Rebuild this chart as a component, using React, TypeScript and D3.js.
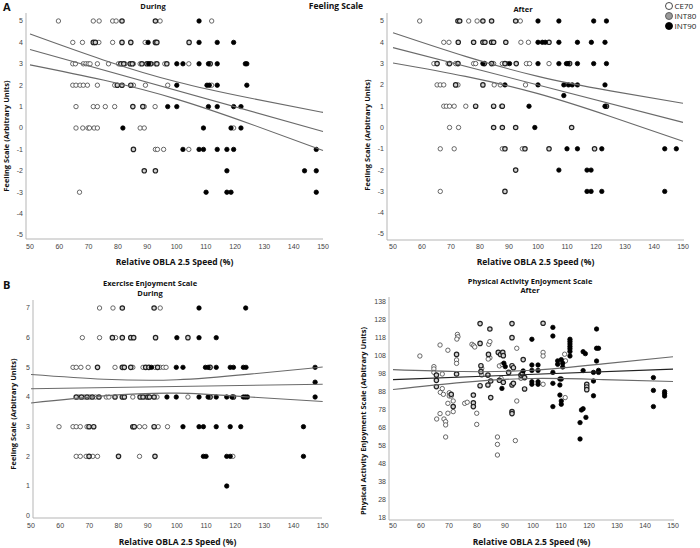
import React from 'react';
import * as d3 from 'd3';

const C = 'CE70';
const M = 'INT80';
const H = 'INT90';
type Pt = [number, number, string];

const groups = [C, M, H];
const xTicks = [50, 60, 70, 80, 90, 100, 110, 120, 130, 140, 150];
const feelTicks = [-5, -4, -3, -2, -1, 0, 1, 2, 3, 4, 5];
const eesTicks = [0, 1, 2, 3, 4, 5, 6, 7];
const pacesTicks = [18, 28, 38, 48, 58, 68, 78, 88, 98, 108, 118, 128, 138];

const feelDuring: Pt[] = [
  [59.7,5,C],[71.6,5,C],[73.6,5,C],[78.2,5,C],[79.4,5,C],[81.4,5,M],[92.8,5,M],[94.4,5,C],[107.7,5,H],[112,5,C],
  [64.6,4,C],[67.9,4,C],[71.6,4,M],[72.3,4,M],[73.5,4,C],[78.2,4,C],[81.4,4,M],[84.4,4,M],[89.3,4,C],[90.3,4,H],[92.8,4,M],[93.3,4,M],[104.3,4,M],[107.7,4,H],[113.9,4,H],[119.5,4,H],
  [64.6,3,C],[65.5,3,C],[68.2,3,C],[69.1,3,C],[69.9,3,C],[70.5,3,C],[73,3,C],[76.8,3,C],[80.2,3,C],[81,3,M],[82,3,M],[82.4,3,C],[84.2,3,M],[84.9,3,M],[85.3,3,C],[87.6,3,C],[88.2,3,M],[89.9,3,M],[90.5,3,H],[91.2,3,M],[92.8,3,C],[93.3,3,M],[96,3,C],[96.7,3,M],[100.1,3,H],[102.2,3,H],[104.2,3,C],[107.7,3,H],[110.9,3,H],[111.5,3,M],[113.9,3,H],[123.5,3,H],[124,3,H],
  [64.6,2,C],[65.7,2,C],[67.1,2,C],[68.2,2,C],[69.6,2,C],[73,2,C],[78.9,2,C],[79.8,2,M],[81.4,2,M],[84.4,2,M],[85.3,2,C],[89.4,2,C],[97,2,C],[100.1,2,H],[110.4,2,H],[111.2,2,H],[112,2,C],[113.9,2,H],[124,2,H],
  [65.7,1,C],[71.6,1,C],[73,1,C],[75.7,1,C],[78.9,1,C],[85.1,1,M],[88.5,1,M],[89,1,C],[92.7,1,C],[97,1,H],[100.1,1,H],[110.9,1,H],[113.9,1,H],[119.5,1,H],[122,1,H],
  [65.7,0,C],[68,0,C],[69.8,0,C],[70.3,0,C],[71.9,0,C],[73,0,C],[81.7,0,H],[87.6,0,C],[89,0,C],[109.2,0,H],[118.6,0,H],[119.5,0,C],[122,0,H],
  [85.3,-1,M],[92.8,-1,C],[93.5,-1,C],[95.6,-1,C],[102.2,-1,H],[104.2,-1,C],[107.7,-1,H],[109.2,-1,H],[113.9,-1,H],[117.2,-1,H],[119.5,-1,H],[147.7,-1,H],
  [89,-2,M],[92.8,-2,M],[117.2,-2,H],[143.7,-2,H],[147.7,-2,H],
  [66.9,-3,C],[110.1,-3,H],[117.2,-3,H],[118.6,-3,H],[147.7,-3,H],
];

const feelAfter: Pt[] = [
  [59.2,5,C],[72.4,5,M],[73,5,M],[76.1,5,C],[79,5,C],[81,5,M],[84,5,M],[92.3,5,M],[93.9,5,C],[100,5,H],[107.2,5,H],[119.2,5,H],[123.6,5,H],
  [67.5,4,C],[69.3,4,C],[72.5,4,M],[77.8,4,M],[81,4,M],[81.7,4,M],[84,4,M],[84.7,4,M],[88.9,4,M],[94.1,4,C],[96.7,4,C],[100,4,H],[101.5,4,H],[102.5,4,H],[103.8,4,M],[107.2,4,H],[113.6,4,H],[118.4,4,H],[123.1,4,H],
  [64.1,3,C],[65.2,3,M],[69,3,C],[69.5,3,M],[71.6,3,C],[72.4,3,M],[77.8,3,C],[78.5,3,C],[81,3,H],[81.5,3,M],[84,3,M],[84.7,3,C],[87.7,3,C],[88.6,3,M],[89.3,3,C],[90.2,3,H],[92.5,3,M],[96,3,C],[97.1,3,C],[100,3,H],[103.8,3,C],[107.2,3,H],[109.8,3,H],[110.3,3,H],[110.9,3,M],[113.6,3,H],[119.2,3,H],[123.6,3,H],
  [65.2,2,C],[66.3,2,C],[67.5,2,C],[71.6,2,M],[72.4,2,C],[81,2,M],[84.9,2,C],[87,2,C],[88.6,2,H],[95.7,2,C],[100,2,H],[108.9,2,H],[110.5,2,H],[111.8,2,H],[113.6,2,H],[123.1,2,H],
  [108.9,1.5,H],
  [67.5,1,C],[68.4,1,C],[69.5,1,C],[71.1,1,C],[75.1,1,C],[78.5,1,M],[84.7,1,M],[87.4,1,C],[87.7,1,M],[96.9,1,H],[123.1,1,H],[123.6,1,M],
  [69.5,0,C],[72.6,0,C],[84.7,0,M],[87.7,0,M],[92.3,0,M],[98.9,0,H],[111.6,0,M],
  [66.3,-1,C],[71.1,-1,C],[87.7,-1,C],[88.6,-1,M],[94.6,-1,C],[95.5,-1,M],[103.8,-1,M],[110,-1,H],[113.6,-1,H],[119.5,-1,M],[122,-1,H],[143.7,-1,H],[147.7,-1,H],
  [92.3,-2,M],[107.2,-2,H],[116.9,-2,H],[118.3,-2,H],
  [66.3,-3,C],[88.6,-3,M],[116.9,-3,H],[118.3,-3,H],[122,-3,H],[143.7,-3,H],
];

const eesDuring: Pt[] = [
  [73.5,7,C],[78.1,7,C],[81.3,7,M],[92.2,7,M],[94.3,7,C],[107.6,7,H],[123.6,7,H],
  [67.6,6,C],[73.5,6,C],[77.9,6,M],[79,6,C],[81.3,6,M],[84.2,6,M],[85.2,6,M],[92.7,6,M],[100,6,H],[103.8,6,M],[107.6,6,H],[113.5,6,H],
  [64.4,5,C],[65.5,5,C],[67.1,5,C],[69.6,5,C],[72.8,5,M],[78.8,5,C],[81.3,5,M],[82,5,M],[84.2,5,M],[84.9,5,C],[88.4,5,C],[89.3,5,M],[90.4,5,M],[91.3,5,H],[92.5,5,C],[93.4,5,M],[94.3,5,C],[95.4,5,C],[96.3,5,C],[99.8,5,H],[102.1,5,H],[109.8,5,H],[110.7,5,H],[111.4,5,M],[113.5,5,H],[118.3,5,H],[119.4,5,H],[122.8,5,H],[123.7,5,H],[147.4,5,H],
  [147.4,4.5,H],
  [65.5,4,M],[66.4,4,C],[67.3,4,M],[68.2,4,C],[69.2,4,M],[70.1,4,C],[71,4,M],[72.1,4,C],[73.3,4,M],[75.8,4,C],[76.7,4,C],[78.8,4,M],[81.3,4,M],[82,4,M],[84.9,4,C],[87.4,4,M],[88.4,4,M],[89.3,4,C],[90,4,M],[90.6,4,M],[92.2,4,M],[93.2,4,C],[96.6,4,H],[99.8,4,H],[103.8,4,C],[107.6,4,H],[110.7,4,H],[111.4,4,M],[113.5,4,H],[117.1,4,H],[118.9,4,H],[119.4,4,M],[122.8,4,H],[123.5,4,H],[124.2,4,H],[147.4,4,H],
  [59.6,3,C],[64.4,3,C],[65.5,3,C],[66.9,3,C],[69.2,3,C],[69.9,3,M],[71.5,3,M],[84.9,3,M],[85.4,3,M],[87.2,3,C],[89,3,C],[92.2,3,M],[93.6,3,C],[96.8,3,C],[102.1,3,H],[107.6,3,H],[109.1,3,H],[113.5,3,H],[118.3,3,H],[121.9,3,H],[143.4,3,H],
  [65.5,2,C],[66.9,2,C],[68.9,2,C],[69.9,2,M],[71.2,2,C],[72.8,2,C],[80,2,M],[87.2,2,C],[92.5,2,M],[109.1,2,H],[110,2,H],[117.1,2,H],[118.3,2,H],[119.2,2,C],[143.4,2,H],
  [117.1,1,H],
];

const pacesAfter: Pt[] = [
  [59.6,108,C],[66.8,114.1,C],[69.6,111.2,C],[64.6,102.1,C],[64.6,100.8,C],[64.6,98.9,C],[65.5,97.4,M],[65.5,94.5,M],[65.5,91,M],[67.6,98,C],[67.6,89.9,C],[66.9,87.8,C],[68,86.7,C],[70.1,87.6,C],[70.8,86.7,M],[70.1,85.8,C],[70.8,85.8,C],[69.6,81.7,C],[71.5,83,C],[71.5,79.9,M],[71.5,77.1,C],[69.6,76.2,C],[66.8,76,C],[65.6,73,C],[68.2,73,C],[68.8,71.5,C],[68.8,69.7,C],[68.8,63,C],
  [73,120,C],[73.2,118.7,C],[72.8,117.4,C],[72.7,108.9,M],[72.7,105.8,C],[72.7,103.9,C],[72.7,98,M],[75.6,81.7,C],[76.5,82.3,C],[78.2,114.5,C],[78.8,113.8,C],[79.2,113,C],
  [81.1,126,M],[81.1,115,M],[84.6,123,M],[84.2,114.5,C],[84.6,116,C],[84.1,108.9,M],[84.6,107,C],[84,106.3,C],[81.4,102.6,M],[81.7,101.2,C],[81.4,99.3,M],[81.7,97.4,C],[81.1,91.5,M],[78.7,86.3,M],[78.7,82,M],[78.7,79.9,M],[79.9,76.2,C],[79.9,70,C],
  [83.9,97.4,M],[83.9,91.9,M],[84.9,94.1,M],[84.9,84.9,M],[87.6,110,M],[88.4,108.8,M],[89.2,110,M],[89.4,108.2,M],[88,102.5,C],[89,103.3,C],[89.6,104,H],[90.1,102.1,H],[91.3,98.9,M],[88,94.5,M],[88.6,95.6,C],[89.4,93.4,M],[88.9,90,H],
  [92.5,126,M],[92.5,118.2,M],[92.5,102.6,M],[93,101.5,M],[92.5,91.9,M],[93,92.8,M],[92.5,77.1,M],[92.5,76,M],[94.2,112.3,C],[94.2,83,C],[95.7,97.4,M],[95.7,95.6,C],[96.2,98.2,M],[97,96,M],[97,89.7,M],[96.5,106,M],[96.5,99.7,H],
  [87.3,63,C],[87.3,58.9,C],[87.3,53,C],[93.7,61,C],
  [99.6,117.3,H],[99.6,103,H],[101.8,103,H],[99.6,100,H],[101.8,100,H],[99.6,93.7,H],[99.6,92.3,H],[101.8,93.7,H],[101.8,92.3,H],[103.6,92.3,C],[103.6,126.2,M],[107.1,123.9,H],[107.1,119.1,H],[103.6,110,C],[103.6,108,C],[107.1,98.9,H],[107.1,92.8,H],[107.1,79.9,H],
  [108.8,105.3,H],[108.8,103.4,H],[110.1,106,H],[110.6,104,H],[110.6,101.9,H],[111.3,109,C],[111.6,105.3,C],[109.6,95.2,H],[110.1,95.2,H],[109.6,91.9,H],[109.6,86.3,H],[111.5,84.9,C],[110.1,83,H],[110.1,81.2,H],
  [113.2,117.3,H],[113.2,116,H],[113.2,114.7,H],[113.2,113.3,H],[113.2,112,H],[113.2,110.5,H],[113.2,108,H],
  [117.9,110.4,H],[118.7,109.3,H],[117.9,99.9,H],[119.2,92.3,M],[119.2,90.8,M],[119.2,89.3,M],[117.3,78,H],[117.9,78.7,H],[116.8,71,H],[118.9,73.9,H],[116.8,61.9,H],
  [122.7,123,H],[122.7,112.3,H],[123.4,112.3,H],[122.7,105.2,H],[121.6,98.9,H],[121.6,94.1,H],[123.4,100,H],[123.4,98.9,H],[121.6,85.9,H],
  [143,96,H],[143,88.9,H],[143,79.9,H],[147,88.2,H],[147,87.1,H],[147,85.8,H],
];

// regression fit and 95% CI curves
const feelDuringFit: [number, number][] = [[50, 3.67], [150, -0.16]];
const feelDuringUpper: [number, number][] = [[50, 4.39], [75, 3.18], [100, 2.16], [125, 1.4], [150, 0.73]];
const feelDuringLower: [number, number][] = [[50, 2.95], [75, 2.24], [100, 1.35], [125, 0.2], [150, -1.05]];
const feelAfterFit: [number, number][] = [[50, 3.75], [150, 0.24]];
const feelAfterUpper: [number, number][] = [[50, 4.45], [75, 3.34], [100, 2.4], [125, 1.72], [150, 1.14]];
const feelAfterLower: [number, number][] = [[50, 3.03], [75, 2.4], [100, 1.59], [125, 0.52], [150, -0.65]];
const eesFit: [number, number][] = [[50, 4.28], [150, 4.43]];
const eesUpper: [number, number][] = [[50, 4.76], [75, 4.6], [100, 4.58], [125, 4.77], [150, 5.01]];
const eesLower: [number, number][] = [[50, 3.8], [75, 4.04], [100, 4.13], [125, 4.0], [150, 3.85]];
const pacesFit: [number, number][] = [[50, 94.9], [150, 100.7]];
const pacesUpper: [number, number][] = [[50, 100.45], [75, 99.35], [100, 100.06], [125, 103.6], [150, 107.6]];
const pacesLower: [number, number][] = [[50, 89.35], [75, 93.35], [100, 95.54], [125, 94.9], [150, 93.8]];

const markerStyle: Record<string, { fill: string; stroke: string; sw: number }> = {
  [C]: { fill: '#ffffff', stroke: '#444', sw: 0.8 },
  [M]: { fill: '#d4d4d4', stroke: '#222', sw: 1.2 },
  [H]: { fill: '#000000', stroke: '#000', sw: 0.8 },
};
const legendStyle: Record<string, { fill: string; stroke: string }> = {
  [C]: { fill: '#ffffff', stroke: '#333' },
  [M]: { fill: '#9a9a9a', stroke: '#555' },
  [H]: { fill: '#000000', stroke: '#000' },
};

const TICK_FONT = '"Liberation Sans", Arial, sans-serif';
const BOLD_FONT = '"Open Sans", "DejaVu Sans", sans-serif';

type PanelCfg = {
  data: Pt[];
  fit: [number, number][];
  upper: [number, number][];
  lower: [number, number][];
  yTicks: number[];
  x50: number; x150: number;
  yTop: number; yBot: number;
  yDomain: [number, number];
  axisX: number; axisY: number; axisTop: number; axisRight: number;
  yLabel: string; yLabelX: number; yLabelY: number;
  xLabelY: number; xTickY: number;
  fitColor: string;
};

function Panel({ cfg }: { cfg: PanelCfg }) {
  const x = d3.scaleLinear().domain([50, 150]).range([cfg.x50, cfg.x150]);
  const y = d3.scaleLinear().domain(cfg.yDomain).range([cfg.yBot, cfg.yTop]);
  const straight = d3.line<[number, number]>().x(d => x(d[0])).y(d => y(d[1]));
  const curved = d3.line<[number, number]>().x(d => x(d[0])).y(d => y(d[1])).curve(d3.curveNatural);
  const ordered = [...cfg.data].sort((a, b) => groups.indexOf(a[2]) - groups.indexOf(b[2]));
  const xMid = (cfg.axisX + cfg.axisRight) / 2;
  return (
    <g>
      <line x1={cfg.axisX} x2={cfg.axisX} y1={cfg.axisTop} y2={cfg.axisY} stroke="#b5b5b5" strokeWidth={1} />
      <line x1={cfg.axisX} x2={cfg.axisRight} y1={cfg.axisY} y2={cfg.axisY} stroke="#b5b5b5" strokeWidth={1} />
      {cfg.yTicks.map(t => (
        <text key={'y' + t} x={cfg.axisX - 3} y={y(t)} dy="0.35em" textAnchor="end" fontSize={7} fontFamily={TICK_FONT} fill="#444">{t}</text>
      ))}
      {xTicks.map(t => (
        <text key={'x' + t} x={x(t)} y={cfg.xTickY} dy="0.35em" textAnchor="middle" fontSize={7} fontFamily={TICK_FONT} fill="#444">{t}</text>
      ))}
      {ordered.map((d, i) => {
        const s = markerStyle[d[2]];
        return <circle key={i} cx={x(d[0])} cy={y(d[1])} r={2.2} fill={s.fill} stroke={s.stroke} strokeWidth={s.sw} />;
      })}
      <path d={curved(cfg.upper) || ''} fill="none" stroke="#6a6a6a" strokeWidth={1.1} />
      <path d={curved(cfg.lower) || ''} fill="none" stroke="#6a6a6a" strokeWidth={1.1} />
      <path d={straight(cfg.fit) || ''} fill="none" stroke={cfg.fitColor} strokeWidth={1.1} />
      <text x={xMid} y={cfg.xLabelY} dy="0.35em" textAnchor="middle" fontSize={8.5} fontWeight="bold" fontFamily={BOLD_FONT} fill="#111">Relative OBLA 2.5 Speed (%)</text>
      <text transform={`translate(${cfg.yLabelX},${cfg.yLabelY}) rotate(-90)`} dy="0.35em" textAnchor="middle" fontSize={7.5} fontWeight="bold" fontFamily={BOLD_FONT} fill="#111">{cfg.yLabel}</text>
    </g>
  );
}

export default function App() {
  const panels: PanelCfg[] = [
    {
      data: feelDuring, fit: feelDuringFit, upper: feelDuringUpper, lower: feelDuringLower, yTicks: feelTicks,
      x50: 30, x150: 323, yTop: 21, yBot: 235, yDomain: [-5, 5],
      axisX: 26, axisY: 239, axisTop: 13, axisRight: 323,
      yLabel: 'Feeling Scale (Arbitrary Units)', yLabelX: 6, yLabelY: 136, xLabelY: 262, xTickY: 247, fitColor: '#6a6a6a',
    },
    {
      data: feelAfter, fit: feelAfterFit, upper: feelAfterUpper, lower: feelAfterLower, yTicks: feelTicks,
      x50: 393, x150: 683, yTop: 21, yBot: 234, yDomain: [-5, 5],
      axisX: 387, axisY: 240, axisTop: 13, axisRight: 684,
      yLabel: 'Feeling Scale (Arbitrary Units)', yLabelX: 367, yLabelY: 135, xLabelY: 262, xTickY: 247, fitColor: '#6a6a6a',
    },
    {
      data: eesDuring, fit: eesFit, upper: eesUpper, lower: eesLower, yTicks: eesTicks,
      x50: 31, x150: 322.7, yTop: 308, yBot: 515.7, yDomain: [0, 7],
      axisX: 33, axisY: 518, axisTop: 300, axisRight: 322,
      yLabel: 'Feeling Scale (Arbitrary Units)', yLabelX: 13, yLabelY: 414, xLabelY: 542, xTickY: 526, fitColor: '#6a6a6a',
    },
    {
      data: pacesAfter, fit: pacesFit, upper: pacesUpper, lower: pacesLower, yTicks: pacesTicks,
      x50: 393, x150: 673, yTop: 302, yBot: 518, yDomain: [18, 138],
      axisX: 389, axisY: 520, axisTop: 297, axisRight: 674,
      yLabel: 'Physical Activity Enjoyment Scale (Arbitrary Units)', yLabelX: 363, yLabelY: 421, xLabelY: 542, xTickY: 526, fitColor: '#222',
    },
  ];
  const legendRows = [C, M, H];
  return (
    <svg width={700} height={548} style={{ position: 'absolute', left: 0, top: 0, background: '#fff' }} fontFamily={BOLD_FONT}>
      <rect width={700} height={548} fill="#fff" />
      {panels.map((p, i) => <Panel key={i} cfg={p} />)}
      <text x={3} y={7} dy="0.35em" fontSize={11} fontWeight="bold" fill="#111">A</text>
      <text x={3} y={285} dy="0.35em" fontSize={11} fontWeight="bold" fill="#111">B</text>
      <text x={153} y={6} dy="0.35em" textAnchor="middle" fontSize={7.5} fontWeight="bold" fill="#111">During</text>
      <text x={336} y={6} dy="0.35em" textAnchor="middle" fontSize={8.5} fontWeight="bold" fill="#111">Feeling Scale</text>
      <text x={523} y={9} dy="0.35em" textAnchor="middle" fontSize={7.5} fontWeight="bold" fill="#111">After</text>
      <text x={150} y={283} dy="0.35em" textAnchor="middle" fontSize={7.5} fontWeight="bold" fill="#111">Exercise Enjoyment Scale</text>
      <text x={150} y={293} dy="0.35em" textAnchor="middle" fontSize={7.5} fontWeight="bold" fill="#111">During</text>
      <text x={530} y={281} dy="0.35em" textAnchor="middle" fontSize={7.5} fontWeight="bold" fill="#111">Physical Activity Enjoyment Scale</text>
      <text x={530} y={290} dy="0.35em" textAnchor="middle" fontSize={7.5} fontWeight="bold" fill="#111">After</text>
      {legendRows.map((g, i) => {
        const s = legendStyle[g];
        return (
          <g key={g}>
            <circle cx={669} cy={6 + i * 10} r={3.5} fill={s.fill} stroke={s.stroke} strokeWidth={0.9} />
            <text x={674.5} y={6 + i * 10} dy="0.35em" fontSize={8} fontFamily={BOLD_FONT} fill="#222">{g}</text>
          </g>
        );
      })}
    </svg>
  );
}
